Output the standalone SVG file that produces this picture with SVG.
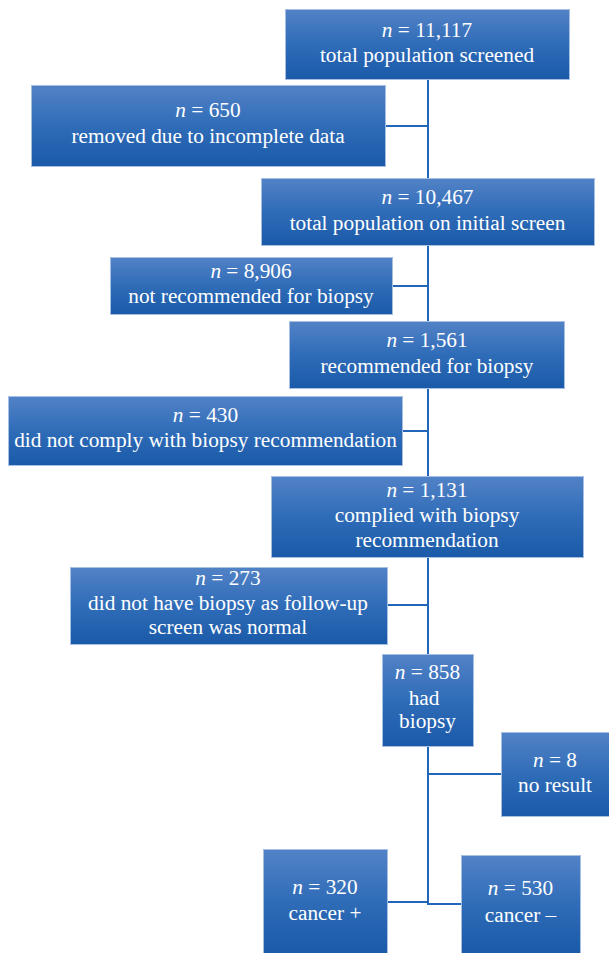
<svg xmlns="http://www.w3.org/2000/svg" width="609" height="953" viewBox="0 0 609 953">
<defs>
<linearGradient id="g" x1="0" y1="0" x2="0" y2="1">
<stop offset="0" stop-color="#5282c6"/>
<stop offset="0.5" stop-color="#2f6cb8"/>
<stop offset="1" stop-color="#1a5aa8"/>
</linearGradient>
<style>
.box{fill:url(#g);stroke:#a6bfe2;stroke-width:1}
.t{font-family:"Liberation Serif",serif;font-size:21.3px;fill:#ffffff;text-anchor:middle}
.i{font-style:italic}
.c{fill:none;stroke:#2166b8;stroke-width:2}
</style>
</defs>
<rect width="609" height="953" fill="#ffffff"/>
<g id="connectors">
<path class="c" d="M428 79 V904 H461"/>
<path class="c" d="M385 126 H428"/>
<path class="c" d="M393 286 H428"/>
<path class="c" d="M403 431 H428"/>
<path class="c" d="M387 605 H428"/>
<path class="c" d="M428 774 H501"/>
<path class="c" d="M387 902 H428"/>
</g>
<g id="n1"><rect class="box" x="285.5" y="9.5" width="284" height="70"/>
<text class="t" x="427" y="37"><tspan class="i">n</tspan> = 11,117</text>
<text class="t" x="427" y="62">total population screened</text></g>
<g id="n2"><rect class="box" x="31.5" y="85.5" width="354" height="81"/>
<text class="t" x="208" y="117"><tspan class="i">n</tspan> = 650</text>
<text class="t" x="208" y="143">removed due to incomplete data</text></g>
<g id="n3"><rect class="box" x="261.5" y="178.5" width="333" height="67"/>
<text class="t" x="427.5" y="204"><tspan class="i">n</tspan> = 10,467</text>
<text class="t" x="427.5" y="230">total population on initial screen</text></g>
<g id="n4"><rect class="box" x="110.5" y="257.5" width="282" height="57"/>
<text class="t" x="251" y="278"><tspan class="i">n</tspan> = 8,906</text>
<text class="t" x="251" y="303">not recommended for biopsy</text></g>
<g id="n5"><rect class="box" x="289.5" y="321.5" width="275" height="67"/>
<text class="t" x="427" y="347"><tspan class="i">n</tspan> = 1,561</text>
<text class="t" x="427" y="373">recommended for biopsy</text></g>
<g id="n6"><rect class="box" x="8.5" y="396.5" width="394" height="69"/>
<text class="t" x="205.5" y="422"><tspan class="i">n</tspan> = 430</text>
<text class="t" x="205.5" y="447">did not comply with biopsy recommendation</text></g>
<g id="n7"><rect class="box" x="271.5" y="476.5" width="312" height="81"/>
<text class="t" x="427" y="497"><tspan class="i">n</tspan> = 1,131</text>
<text class="t" x="427" y="522">complied with biopsy</text>
<text class="t" x="427" y="547">recommendation</text></g>
<g id="n8"><rect class="box" x="70.5" y="567.5" width="317" height="77"/>
<text class="t" x="228" y="585"><tspan class="i">n</tspan> = 273</text>
<text class="t" x="228" y="610">did not have biopsy as follow-up</text>
<text class="t" x="228" y="634">screen was normal</text></g>
<g id="n9"><rect class="box" x="382.5" y="654.5" width="91" height="92"/>
<text class="t" x="427.5" y="679"><tspan class="i">n</tspan> = 858</text>
<text class="t" x="424" y="705">had</text>
<text class="t" x="427.5" y="728">biopsy</text></g>
<g id="n10"><rect class="box" x="501.5" y="732.5" width="108" height="84"/>
<text class="t" x="555" y="767"><tspan class="i">n</tspan> = 8</text>
<text class="t" x="555" y="792">no result</text></g>
<g id="n11"><rect class="box" x="263.5" y="849.5" width="124" height="104"/>
<text class="t" x="325" y="894"><tspan class="i">n</tspan> = 320</text>
<text class="t" x="325" y="920">cancer +</text></g>
<g id="n12"><rect class="box" x="461.5" y="855.5" width="119" height="98"/>
<text class="t" x="520.5" y="895"><tspan class="i">n</tspan> = 530</text>
<text class="t" x="520.5" y="922">cancer –</text></g>
</svg>
